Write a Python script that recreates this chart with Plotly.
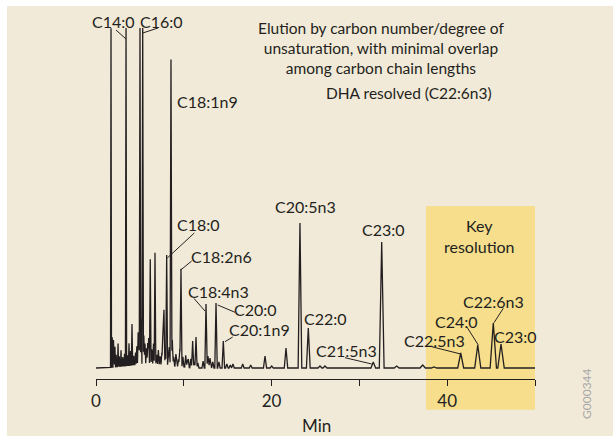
import numpy as np
import plotly.graph_objects as go

# ---- data: retention time (min) and peak height (arbitrary detector units)
peak_times = [1.71, 1.99, 2.16, 2.51, 3.42, 3.76, 4.10, 5.01, 5.32, 5.58, 5.89, 6.18, 6.72,
              7.74, 8.05, 8.54, 8.69, 9.68, 10.22, 10.51, 11.01, 11.39, 12.53, 12.98, 13.67,
              14.50, 15.60, 16.71, 17.62, 19.25, 20.01, 21.64, 23.23, 24.18, 25.51, 26.08,
              31.58, 32.54, 34.25, 37.21, 38.50, 41.54, 43.48, 45.25, 46.13]
peak_heights = [339, 27, 20, 23, 338, 22, 41, 339, 339, 20, 20, 104, 111,
                55, 110, 306, 26, 98, 12, 8, 27, 31, 64, 10, 65,
                27, 4, 4, 3, 12, 2, 20, 145, 40, 2, 2,
                6, 126, 2, 3, 1, 15, 23, 45, 24]
# minor unlabelled "grass" peaks in the early, crowded part of the run
minor_times = [1.85, 2.05, 2.30, 2.65, 2.85, 3.05, 3.25, 3.60, 3.95, 4.30, 4.50, 4.65, 4.80,
               4.90, 5.15, 5.45, 5.75, 6.00, 6.35, 6.55, 6.90, 7.10, 7.30, 7.50, 7.62, 7.90,
               8.25, 8.35, 8.85, 9.10, 9.40, 9.55, 9.90, 10.40, 10.80, 11.20, 11.60, 12.20,
               12.75, 13.30, 14.00, 14.90, 15.30]
minor_heights = [30, 15, 12, 10, 16, 9, 12, 10, 14, 9, 12, 18, 32,
                 22, 45, 28, 15, 25, 14, 20, 9, 14, 8, 12, 35, 12,
                 10, 18, 9, 12, 7, 18, 10, 6, 9, 6, 5, 7,
                 12, 6, 6, 4, 3]
# broad solvent-tail baseline rise
drift_time, drift_height, drift_halfwidth = 6.0, 5, 5.0
run_start, run_end = 0.0, 50.0

x_ticks = [0, 10, 20, 30, 40, 50]
x_tick_labels = ["0", "", "20", "", "40", ""]

# ---- build the trace as a sum of narrow triangular peaks (exact piecewise-linear)
t_all = np.array(peak_times + minor_times + [drift_time])
h_all = np.array(peak_heights + minor_heights + [drift_height], dtype=float)
w_all = 0.045 + 0.007 * t_all          # peak broadening with retention time
w_all[-1] = drift_halfwidth

bp = np.concatenate([[run_start, run_end], t_all - w_all, t_all, t_all + w_all])
bp = np.unique(np.clip(bp, run_start, run_end))
signal = np.zeros_like(bp)
for t, h, w in zip(t_all, h_all, w_all):
    signal += h * np.clip(1 - np.abs(bp - t) / w, 0, None)
# flat baseline before the first eluting peak
pre = bp < peak_times[0] - 0.06
signal[pre] = 0.0

INK = "#231f20"
BEIGE = "#f2ead8"
YELLOW = "#f6de8c"
FONT = "Lato"

fig = go.Figure()
fig.add_trace(go.Scatter(x=bp, y=signal, mode="lines",
                         line=dict(color=INK, width=1.3), hoverinfo="skip",
                         cliponaxis=True))

W, H = 613, 436
L, R, T, B = 96, 78, 28, 57
pw, ph = W - L - R, H - T - B


def px(xp, yp):
    return (xp - L) / pw, (H - B - yp) / ph


shapes = []
# white page edges (top and left)
x0, _ = px(0, 0)
x1, _ = px(7, 0)
_, y0 = px(0, 0)
_, y1 = px(0, 6)
shapes.append(dict(type="rect", xref="paper", yref="paper", x0=x0, x1=x1, y0=px(0, H)[1], y1=y0,
                   fillcolor="white", line_width=0, layer="below"))
shapes.append(dict(type="rect", xref="paper", yref="paper", x0=x0, x1=px(W, 0)[0], y0=y1, y1=y0,
                   fillcolor="white", line_width=0, layer="below"))
# highlight box
yx0, yy0 = px(426, 409.7)
yx1, yy1 = px(535, 206)
shapes.append(dict(type="rect", xref="paper", yref="paper", x0=yx0, x1=yx1, y0=yy0, y1=yy1,
                   fillcolor=YELLOW, line_width=0, layer="below"))

leaders = [
    ((116, 30), (126, 39)),
    ((158, 28), (142.7, 33)),
    ((194.3, 233), (167.3, 258)),
    ((191.7, 261), (180.7, 270)),
    ((194, 298.5), (205, 311)),
    ((217.7, 305), (235, 312.3)),
    ((232.7, 337), (225, 341.7)),
    ((345, 357.7), (371.7, 364)),
    ((431.7, 346.7), (460.7, 354)),
    ((466.7, 326.7), (478.3, 345)),
    ((503.3, 308.3), (494, 322.7)),
]
for (a, b) in leaders:
    ax_, ay_ = px(*a)
    bx_, by_ = px(*b)
    shapes.append(dict(type="line", xref="paper", yref="paper", x0=ax_, y0=ay_, x1=bx_, y1=by_,
                       line=dict(color=INK, width=1)))

labels = [
    ("C14:0", 113.5, 21.5), ("C16:0", 161, 21), ("C18:1n9", 207, 102),
    ("C18:0", 198.7, 224), ("C18:2n6", 221.5, 256), ("C18:4n3", 218, 291),
    ("C20:0", 255, 309), ("C20:1n9", 259, 329.5), ("C20:5n3", 305.3, 206.7),
    ("C22:0", 325, 318.5), ("C21:5n3", 346.7, 350), ("C23:0", 383, 229),
    ("C22:5n3", 434.5, 340), ("C24:0", 456.7, 321.7), ("C22:6n3", 493, 301.7),
    ("C23:0", 515.5, 336.7),
]
annotations = []
for text, xp, yp in labels:
    ax_, ay_ = px(xp, yp)
    annotations.append(dict(text=text, x=ax_, y=ay_, xref="paper", yref="paper",
                            xanchor="center", yanchor="middle", showarrow=False,
                            font=dict(family=FONT, size=16, color=INK)))

ax_, ay_ = px(479, 235.5)
annotations.append(dict(text="Key<br>resolution", x=ax_, y=ay_, xref="paper", yref="paper",
                        xanchor="center", yanchor="middle", showarrow=False,
                        font=dict(family=FONT, size=16, color=INK)))
ax_, ay_ = px(381, 48.5)
annotations.append(dict(text="Elution by carbon number/degree of<br>unsaturation, with minimal overlap<br>among carbon chain lengths",
                        x=ax_, y=ay_, xref="paper", yref="paper",
                        xanchor="center", yanchor="middle", showarrow=False,
                        font=dict(family=FONT, size=15.5, color=INK)))
ax_, ay_ = px(409, 93)
annotations.append(dict(text="DHA resolved (C22:6n3)", x=ax_, y=ay_, xref="paper", yref="paper",
                        xanchor="center", yanchor="middle", showarrow=False,
                        font=dict(family=FONT, size=15.5, color=INK)))
ax_, ay_ = px(316, 425)
annotations.append(dict(text="Min", x=ax_, y=ay_, xref="paper", yref="paper",
                        xanchor="center", yanchor="middle", showarrow=False,
                        font=dict(family=FONT, size=17, color=INK)))
ax_, ay_ = px(586, 394)
annotations.append(dict(text="G000344", x=ax_, y=ay_, xref="paper", yref="paper",
                        xanchor="center", yanchor="middle", showarrow=False, textangle=-90,
                        font=dict(family=FONT, size=12, color="#a8a8a8")))

fig.update_layout(
    width=W, height=H,
    margin=dict(l=L, r=R, t=T, b=B, pad=0),
    paper_bgcolor=BEIGE, plot_bgcolor="rgba(0,0,0,0)",
    showlegend=False,
    shapes=shapes, annotations=annotations,
    xaxis=dict(range=[run_start, run_end], tickvals=x_ticks, ticktext=x_tick_labels,
               showline=True, linecolor=INK, linewidth=1.3, ticks="outside", ticklen=6,
               tickwidth=1.3, tickcolor=INK, showgrid=False, zeroline=False,
               tickfont=dict(family=FONT, size=17, color=INK), fixedrange=True),
    yaxis=dict(range=[-11, 340], visible=False, fixedrange=True),
)
fig.write_html("out.html", config=dict(displayModeBar=False))
